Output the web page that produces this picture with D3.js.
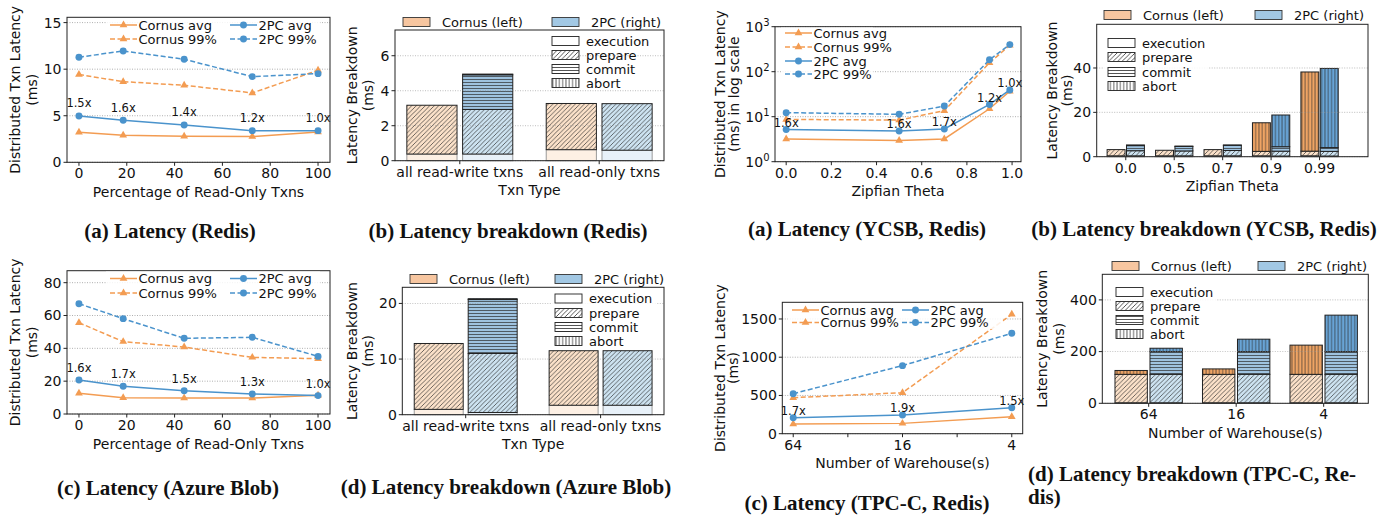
<!DOCTYPE html>
<html>
<head>
<meta charset="utf-8">
<script src="https://cdn.jsdelivr.net/npm/d3@7"></script>
<style>
  body { margin: 0; background: #fff; }
  text { fill: #111; }
</style>
</head>
<body>
<script>
// ---- DATA ------------------------------------------------------------------

// percentage of read-only txns (Redis / Azure Blob sweeps)
const readOnlyPct = [0, 18.5, 44, 72.5, 100];

const redisCornusAvg = [3.22, 2.9, 2.79, 2.76, 3.26];
const redisCornusP99 = [9.42, 8.66, 8.27, 7.45, 9.88];
const redis2pcAvg = [4.98, 4.51, 4.01, 3.4, 3.4];
const redis2pcP99 = [11.28, 11.96, 11.06, 9.2, 9.52];
const redisSpeedup = ["1.5x", "1.6x", "1.4x", "1.2x", "1.0x"];

const azureCornusAvg = [12.6, 9.9, 9.7, 9.7, 11.4];
const azureCornusP99 = [55.6, 44.1, 40.8, 34.5, 33.7];
const azure2pcAvg = [20.7, 16.9, 14.2, 12.2, 11.2];
const azure2pcP99 = [67.2, 58.1, 46.1, 46.7, 35.1];
const azureSpeedup = ["1.6x", "1.7x", "1.5x", "1.3x", "1.0x"];

// YCSB zipfian sweep
const zipfTheta = [0, 0.5, 0.7, 0.9, 0.99];
const ycsbCornusAvg = [3.2, 2.95, 3.2, 15, 36.8];
const ycsbCornusP99 = [8.7, 8.4, 13.6, 158, 387];
const ycsb2pcAvg = [5.17, 4.83, 5.34, 18.7, 39.4];
const ycsb2pcP99 = [12.3, 11.3, 17.2, 184, 400];
const ycsbSpeedup = ["1.6x", "1.6x", "1.7x", "1.2x", "1.0x"];

// TPC-C warehouses
const warehouses = [64, 16, 4];
const tpccCornusAvg = [126, 135, 222];
const tpccCornusP99 = [471, 536, 1561];
const tpcc2pcAvg = [209, 244, 340];
const tpcc2pcP99 = [523, 890, 1313];
const tpccSpeedup = ["1.7x", "1.9x", "1.5x"];

// latency breakdowns, rows follow stageNames
const stageNames = ["execution", "prepare", "commit", "abort"];
const txnTypes = ["all read-write txns", "all read-only txns"];
const redisBdCornus = [[0.38, 0.63], [2.79, 2.64], [0, 0], [0, 0]];
const redisBd2pc = [[0.38, 0.6], [2.55, 2.66], [1.98, 0], [0.04, 0]];
const azureBdCornus = [[0.96, 1.7], [11.84, 9.8], [0, 0], [0, 0]];
const azureBd2pc = [[0.4, 1.7], [10.6, 9.8], [9.7, 0], [0.15, 0]];

const zipfCats = ["0.0", "0.5", "0.7", "0.9", "0.99"];
const ycsbBdCornus = [[0.4, 0.4, 0.4, 0.4, 0.4], [2.8, 2.5, 2.8, 2.0, 2.1], [0, 0, 0, 0, 0], [0, 0, 0, 12.9, 35.7]];
const ycsbBd2pc = [[0.4, 0.4, 0.4, 0.3, 0.3], [2.3, 2.2, 2.4, 2.2, 2.1], [2.3, 2.0, 2.3, 2.0, 1.7], [0.3, 0.2, 0.2, 14.3, 35.7]];

const warehouseCats = ["64", "16", "4"];
const tpccBdCornus = [[2, 2, 2], [110, 110, 110], [0, 0, 0], [15, 21, 113]];
const tpccBd2pc = [[2, 2, 2], [110, 110, 110], [88, 88, 88], [13, 48, 141]];

// ---- STYLE -----------------------------------------------------------------
const ORANGE = "#f39c52";
const BLUE = "#4a93cc";
const segFill = {
  cornus: ["#fdf0e4", "#fbe1c9", "#f7c8a0", "#efa464"],
  twoPC: ["#e8f1f9", "#cde3f1", "#9fc3e0", "#68a4d6"]
};
const patchCornus = "#f7c6a0";
const patch2pc = "#a2c8e4";
const hatchIds = [null, "h-prepare", "h-commit", "h-abort"];

const svg = d3.select("body").append("svg")
  .attr("width", 1398).attr("height", 515)
  .style("font-family", "'DejaVu Sans', sans-serif");
svg.append("rect").attr("width", 1398).attr("height", 515).attr("fill", "#fff");

const defs = svg.append("defs");
function hatch(id, w, h, d) {
  defs.append("pattern").attr("id", id)
    .attr("patternUnits", "userSpaceOnUse")
    .attr("width", w).attr("height", h)
    .append("path").attr("d", d)
    .attr("stroke", "#2a2a2a").attr("stroke-width", 0.8).attr("fill", "none");
}
hatch("h-prepare", 4.5, 4.5, "M-1.125,1.125 L1.125,-1.125 M0,4.5 L4.5,0 M3.375,5.625 L5.625,3.375");
hatch("h-commit", 4, 3, "M0,1.5 H4");
hatch("h-abort", 3.3, 4, "M1.65,0 V4");

// ---- HELPERS ---------------------------------------------------------------
function grid(g, box, y, ticks, opacity) {
  g.selectAll(null).data(ticks).join("line")
    .attr("x1", box.l).attr("x2", box.r)
    .attr("y1", d => y(d)).attr("y2", d => y(d))
    .attr("stroke", "#9a9a9a").attr("stroke-width", 0.8)
    .attr("stroke-dasharray", "1,1.5").attr("opacity", opacity);
}

function frame(g, box) {
  g.append("rect").attr("x", box.l).attr("y", box.t)
    .attr("width", box.r - box.l).attr("height", box.b - box.t)
    .attr("fill", "none").attr("stroke", "#222").attr("stroke-width", 1);
}

function yTicks(g, box, y, ticks, fmt) {
  ticks.forEach(v => {
    g.append("line").attr("x1", box.l - 3.5).attr("x2", box.l)
      .attr("y1", y(v)).attr("y2", y(v)).attr("stroke", "#222");
    fmt(g.append("text").attr("x", box.l - 5.5).attr("y", y(v))
      .attr("dy", "0.35em").attr("text-anchor", "end")
      .attr("font-size", 14), v);
  });
}

function xTicks(g, box, pos, labels) {
  pos.forEach((p, i) => {
    g.append("line").attr("x1", p).attr("x2", p)
      .attr("y1", box.b).attr("y2", box.b + 3.5).attr("stroke", "#222");
    if (labels[i] !== "") {
      g.append("text").attr("x", p).attr("y", box.b + 16)
        .attr("text-anchor", "middle").attr("font-size", 14).text(labels[i]);
    }
  });
}

function labels(g, box, ylab, yx, xlab) {
  const cy = (box.t + box.b) / 2;
  ylab.forEach((t, i) => {
    g.append("text").attr("transform", `translate(${box.l + yx[i]},${cy}) rotate(-90)`)
      .attr("text-anchor", "middle").attr("dy", "0.35em")
      .attr("font-size", 14).text(t);
  });
  g.append("text").attr("x", (box.l + box.r) / 2).attr("y", box.b + 34.5)
    .attr("text-anchor", "middle").attr("font-size", 14).text(xlab);
}

function caption(lines, x, y, anchor) {
  lines.forEach((t, i) => {
    svg.append("text").attr("x", x).attr("y", y + i * 23)
      .attr("text-anchor", anchor)
      .attr("font-family", "'Liberation Serif', serif")
      .attr("font-weight", "bold").attr("font-size", 21).text(t);
  });
}

const plainFmt = (t, v) => t.text(v);

// ---- LINE PANELS -----------------------------------------------------------
function linePanel(p) {
  const g = svg.append("g");
  const { box, x, y } = p;
  grid(g, box, y, p.yticks, 1);

  const series = [
    { name: "Cornus avg", v: p.cornusAvg, c: ORANGE, dash: false, sym: d3.symbolTriangle, size: 26 },
    { name: "Cornus 99%", v: p.cornusP99, c: ORANGE, dash: true, sym: d3.symbolTriangle, size: 26 },
    { name: "2PC avg", v: p.twoAvg, c: BLUE, dash: false, sym: d3.symbolCircle, size: 38 },
    { name: "2PC 99%", v: p.twoP99, c: BLUE, dash: true, sym: d3.symbolCircle, size: 38 }
  ];

  series.forEach(s => {
    const pts = p.xs.map((xv, i) => [x(xv), y(s.v[i])]);
    g.append("path").attr("d", d3.line()(pts))
      .attr("fill", "none").attr("stroke", s.c).attr("stroke-width", 1.5)
      .attr("stroke-dasharray", s.dash ? "5,2.5" : null);
    g.selectAll(null).data(pts).join("path")
      .attr("transform", d => `translate(${d[0]},${d[1]})`)
      .attr("d", d3.symbol(s.sym, s.size)).attr("fill", s.c);
  });

  // speed-up notes above 2PC avg
  p.xs.forEach((xv, i) => {
    g.append("text").attr("x", x(xv)).attr("y", y(p.twoAvg[i]) - p.noteDy)
      .attr("dy", "0.35em").attr("text-anchor", "middle")
      .attr("font-size", 11.5).text(p.notes[i]);
  });

  frame(g, box);
  yTicks(g, box, y, p.yticks, p.yfmt || plainFmt);
  xTicks(g, box, p.xticks.map(v => x(v)), p.xlabels);
  labels(g, box, p.ylab, p.ylabX, p.xlab);

  // legend
  const L = p.legend;
  g.append("rect").attr("x", L.bg[0]).attr("y", L.bg[1])
    .attr("width", L.bg[2]).attr("height", L.bg[3])
    .attr("fill", "#fff").attr("opacity", 0.85);
  series.forEach((s, i) => {
    const hx = L.cols[i], ty = L.rows[i];
    g.append("line").attr("x1", hx).attr("x2", hx + 27).attr("y1", ty).attr("y2", ty)
      .attr("stroke", s.c).attr("stroke-width", 1.5)
      .attr("stroke-dasharray", s.dash ? "5,2.5" : null);
    g.append("path").attr("transform", `translate(${hx + 13.5},${ty})`)
      .attr("d", d3.symbol(s.sym, s.size)).attr("fill", s.c);
    g.append("text").attr("x", hx + 28.5).attr("y", ty).attr("dy", "0.35em")
      .attr("font-size", 13).text(s.name);
  });
}

// (a) Redis
{
  const box = { l: 67, r: 330, t: 17.3, b: 162.3 };
  linePanel({
    box, xs: readOnlyPct,
    x: d3.scaleLinear().domain([-5, 105]).range([box.l, box.r]),
    y: d3.scaleLinear().domain([0, 15.57]).range([box.b, box.t]),
    cornusAvg: redisCornusAvg, cornusP99: redisCornusP99,
    twoAvg: redis2pcAvg, twoP99: redis2pcP99,
    notes: redisSpeedup, noteDy: 12.5,
    yticks: [0, 5, 10, 15],
    xticks: [0, 20, 40, 60, 80, 100], xlabels: ["0", "20", "40", "60", "80", "100"],
    ylab: ["Distributed Txn Latency", "(ms)"], ylabX: [-52, -35],
    xlab: "Percentage of Read-Only Txns",
    legend: { bg: [106, 18, 214, 29], cols: [110, 110, 230, 230], rows: [25, 39, 25, 39] }
  });
}

// (c) Azure Blob
{
  const box = { l: 67, r: 330, t: 270.7, b: 414 };
  linePanel({
    box, xs: readOnlyPct,
    x: d3.scaleLinear().domain([-5, 105]).range([box.l, box.r]),
    y: d3.scaleLinear().domain([0, 87.3]).range([box.b, box.t]),
    cornusAvg: azureCornusAvg, cornusP99: azureCornusP99,
    twoAvg: azure2pcAvg, twoP99: azure2pcP99,
    notes: azureSpeedup, noteDy: 12,
    yticks: [0, 20, 40, 60, 80],
    xticks: [0, 20, 40, 60, 80, 100], xlabels: ["0", "20", "40", "60", "80", "100"],
    ylab: ["Distributed Txn Latency", "(ms)"], ylabX: [-52, -35],
    xlab: "Percentage of Read-Only Txns",
    legend: { bg: [106, 271.5, 214, 29], cols: [110, 110, 230, 230], rows: [278.5, 293, 278.5, 293] }
  });
}

// (a) YCSB
{
  const box = { l: 775, r: 1021, t: 26.7, b: 161.7 };
  const supFmt = (t, v) => {
    t.text("10");
    t.append("tspan").attr("dy", "-0.55em").attr("font-size", 10).text(Math.round(Math.log10(v)));
  };
  linePanel({
    box, xs: zipfTheta,
    x: d3.scaleLinear().domain([-0.0495, 1.0395]).range([box.l, box.r]),
    y: d3.scaleLog().domain([1, 1000]).range([box.b, box.t]),
    cornusAvg: ycsbCornusAvg, cornusP99: ycsbCornusP99,
    twoAvg: ycsb2pcAvg, twoP99: ycsb2pcP99,
    notes: ycsbSpeedup, noteDy: 6.5,
    yticks: [1, 10, 100, 1000], yfmt: supFmt,
    xticks: [0, 0.2, 0.4, 0.6, 0.8, 1.0], xlabels: ["0.0", "0.2", "0.4", "0.6", "0.8", "1.0"],
    ylab: ["Distributed Txn Latency", "(ms) in log scale"], ylabX: [-55, -41],
    xlab: "Zipfian Theta",
    legend: { bg: [781, 27.5, 92, 53], cols: [785, 785, 785, 785], rows: [33, 47, 61, 74] }
  });
}

// (c) TPC-C
{
  const box = { l: 782.3, r: 1022.7, t: 302.3, b: 433.7 };
  linePanel({
    box, xs: warehouses,
    x: d3.scaleLog().base(2).domain([Math.pow(2, 6.2), Math.pow(2, 1.8)]).range([box.l, box.r]),
    y: d3.scaleLinear().domain([0, 1718]).range([box.b, box.t]),
    cornusAvg: tpccCornusAvg, cornusP99: tpccCornusP99,
    twoAvg: tpcc2pcAvg, twoP99: tpcc2pcP99,
    notes: tpccSpeedup, noteDy: 7,
    yticks: [0, 500, 1000, 1500],
    xticks: [64, 32, 16, 8, 4], xlabels: ["64", "", "16", "", "4"],
    ylab: ["Distributed Txn Latency", "(ms)"], ylabX: [-62, -49],
    xlab: "Number of Warehouse(s)",
    legend: { bg: [788, 303, 215, 26], cols: [792, 792, 902, 902], rows: [310, 322.5, 310, 322.5] }
  });
}

// ---- BAR PANELS ------------------------------------------------------------
function barPanel(p) {
  const g = svg.append("g");
  const box = p.box;
  const x = d3.scaleLinear().domain(p.xdom).range([box.l, box.r]);
  const y = d3.scaleLinear().domain(p.ydom).range([box.b, box.t]);
  const w = p.barW;

  [["cornus", p.cornus, -0.2], ["twoPC", p.twoPC, 0.2]].forEach(([sys, rows, off]) => {
    p.cats.forEach((c, i) => {
      let base = 0;
      rows.forEach((vals, s) => {
        const v = vals[i];
        if (v <= 0) return;
        const rx = x(i + off - w / 2), rw = x(w) - x(0);
        const ry = y(base + v), rh = y(base) - y(base + v);
        g.append("rect").attr("x", rx).attr("y", ry).attr("width", rw).attr("height", rh)
          .attr("fill", segFill[sys][s]);
        if (hatchIds[s]) {
          g.append("rect").attr("x", rx).attr("y", ry).attr("width", rw).attr("height", rh)
            .attr("fill", `url(#${hatchIds[s]})`).attr("opacity", 0.85);
        }
        g.append("rect").attr("x", rx).attr("y", ry).attr("width", rw).attr("height", rh)
          .attr("fill", "none").attr("stroke", s === 0 ? "#9a9a9a" : "#222")
          .attr("stroke-width", 1);
        base += v;
      });
    });
  });

  grid(g, box, y, p.yticks, 0.8);
  frame(g, box);
  yTicks(g, box, y, p.yticks, plainFmt);
  xTicks(g, box, p.cats.map((c, i) => x(i)), p.cats);
  labels(g, box, p.ylab, p.ylabX, p.xlab);

  // top legend (systems)
  const T = p.top;
  [["Cornus (left)", patchCornus, T.x[0]], ["2PC (right)", patch2pc, T.x[1]]].forEach(([name, fill, lx]) => {
    g.append("rect").attr("x", lx).attr("y", T.y - 4.5).attr("width", 27).attr("height", 9)
      .attr("fill", fill).attr("stroke", "#333").attr("stroke-width", 0.9);
    g.append("text").attr("x", lx + 39).attr("y", T.y).attr("dy", "0.35em")
      .attr("font-size", 13).text(name);
  });

  // inner legend (stages)
  const I = p.inner;
  if (I.bg) {
    g.append("rect").attr("x", I.x - 4).attr("y", I.rows[0] - 9)
      .attr("width", I.bgW).attr("height", I.rows[3] - I.rows[0] + 18)
      .attr("fill", "#fff").attr("opacity", 0.85);
  }
  stageNames.forEach((name, s) => {
    const ry = I.rows[s] - 4.5;
    g.append("rect").attr("x", I.x).attr("y", ry).attr("width", 27).attr("height", 9)
      .attr("fill", "#fff");
    if (hatchIds[s]) {
      g.append("rect").attr("x", I.x).attr("y", ry).attr("width", 27).attr("height", 9)
        .attr("fill", `url(#${hatchIds[s]})`);
    }
    g.append("rect").attr("x", I.x).attr("y", ry).attr("width", 27).attr("height", 9)
      .attr("fill", "none").attr("stroke", "#222").attr("stroke-width", 0.9);
    g.append("text").attr("x", I.x + 34).attr("y", I.rows[s]).attr("dy", "0.35em")
      .attr("font-size", 13).text(name);
  });
}

// (b) Redis breakdown
barPanel({
  box: { l: 395, r: 664, t: 30, b: 160.7 },
  xdom: [-0.465, 1.465], ydom: [0, 7.47], barW: 0.36,
  cats: txnTypes, cornus: redisBdCornus, twoPC: redisBd2pc,
  yticks: [0, 2, 4, 6],
  ylab: ["Latency Breakdown", "(ms)"], ylabX: [-43, -27], xlab: "Txn Type",
  top: { y: 22, x: [403, 552] },
  inner: { x: 552, rows: [41, 55, 69, 83], bg: false }
});

// (d) Azure Blob breakdown
barPanel({
  box: { l: 402.3, r: 664, t: 287.3, b: 414.7 },
  xdom: [-0.47, 1.47], ydom: [0, 22.9], barW: 0.363,
  cats: txnTypes, cornus: azureBdCornus, twoPC: azureBd2pc,
  yticks: [0, 10, 20],
  ylab: ["Latency Breakdown", "(ms)"], ylabX: [-50, -34], xlab: "Txn Type",
  top: { y: 279, x: [410, 555] },
  inner: { x: 555, rows: [298.5, 313, 327, 341], bg: true, bgW: 105 }
});

// (b) YCSB breakdown
barPanel({
  box: { l: 1096.7, r: 1368, t: 24.3, b: 156.7 },
  xdom: [-0.6, 5.0], ydom: [0, 59.7], barW: 0.37,
  cats: zipfCats, cornus: ycsbBdCornus, twoPC: ycsbBd2pc,
  yticks: [0, 20, 40],
  ylab: ["Latency Breakdown", "(ms)"], ylabX: [-45, -30], xlab: "Zipfian Theta",
  top: { y: 15, x: [1104, 1255] },
  inner: { x: 1108, rows: [43, 57, 72, 86], bg: true, bgW: 105 }
});

// (d) TPC-C breakdown
barPanel({
  box: { l: 1102.3, r: 1368.3, t: 274.3, b: 403.3 },
  xdom: [-0.53, 2.51], ydom: [0, 499], barW: 0.37,
  cats: warehouseCats, cornus: tpccBdCornus, twoPC: tpccBd2pc,
  yticks: [0, 200, 400],
  ylab: ["Latency Breakdown", "(ms)"], ylabX: [-60, -43], xlab: "Number of Warehouse(s)",
  top: { y: 266, x: [1112, 1258] },
  inner: { x: 1116, rows: [292, 306, 320, 334], bg: true, bgW: 105 }
});

// ---- CAPTIONS --------------------------------------------------------------
caption(["(a) Latency (Redis)"], 170, 238, "middle");
caption(["(b) Latency breakdown (Redis)"], 508, 238, "middle");
caption(["(a) Latency (YCSB, Redis)"], 867, 236, "middle");
caption(["(b) Latency breakdown (YCSB, Redis)"], 1204, 236, "middle");
caption(["(c) Latency (Azure Blob)"], 168, 495, "middle");
caption(["(d) Latency breakdown (Azure Blob)"], 506, 494, "middle");
caption(["(c) Latency (TPC-C, Redis)"], 867, 510, "middle");
caption(["(d) Latency breakdown (TPC-C, Re-", "dis)"], 1028, 481, "start");
</script>
</body>
</html>
